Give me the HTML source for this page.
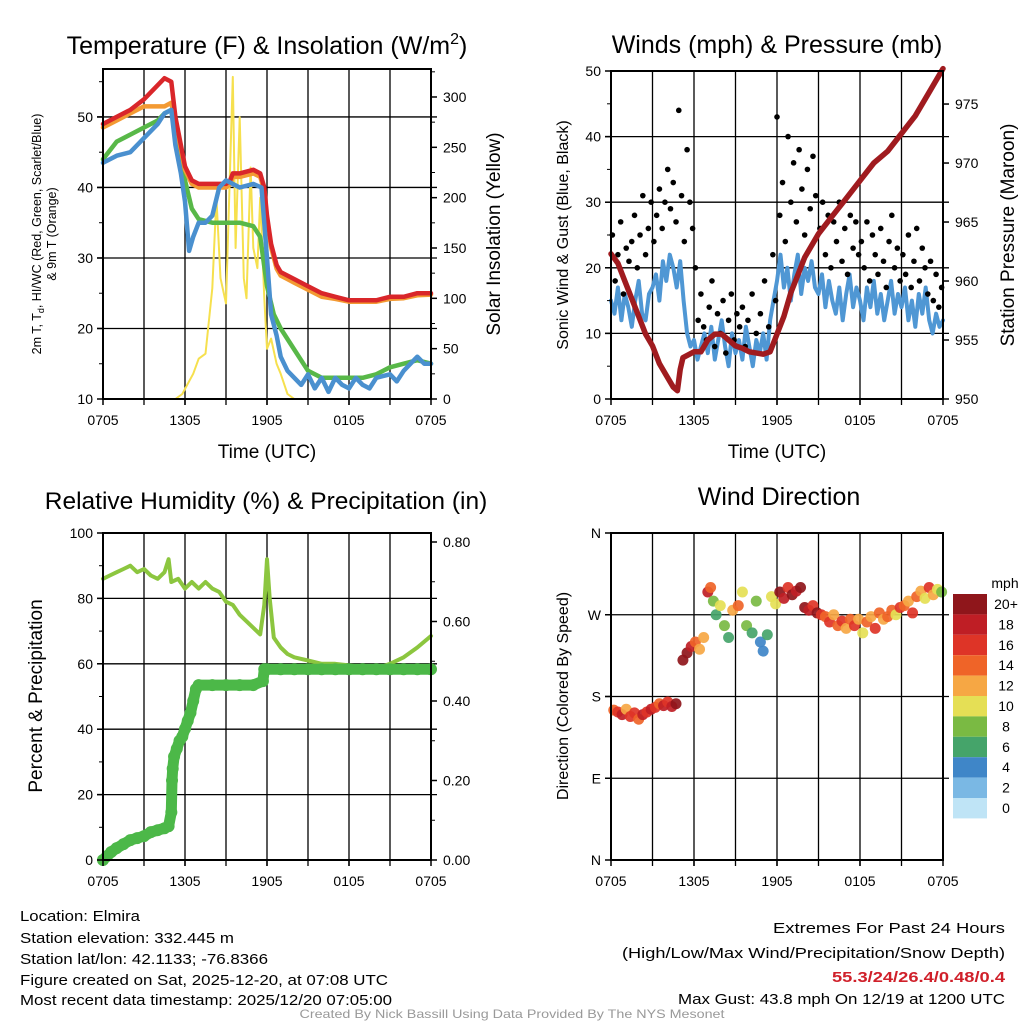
<!DOCTYPE html>
<html><head><meta charset="utf-8"><style>
html,body{margin:0;padding:0;background:#fff}
svg{display:block;font-family:"Liberation Sans",Arial,sans-serif}
</style></head><body>
<svg id="fig" width="1024" height="1024" viewBox="0 0 1024 1024" xmlns="http://www.w3.org/2000/svg">
<g id="layer-grid"></g><g id="layer-data"></g><g id="layer-axes"></g>
<g font-size="15" fill="#000">
<text x="20" y="921" textLength="120" lengthAdjust="spacingAndGlyphs">Location: Elmira</text>
<text x="20" y="943" textLength="214" lengthAdjust="spacingAndGlyphs">Station elevation: 332.445 m</text>
<text x="20" y="964" textLength="248" lengthAdjust="spacingAndGlyphs">Station lat/lon: 42.1133; -76.8366</text>
<text x="20" y="985" textLength="368" lengthAdjust="spacingAndGlyphs">Figure created on Sat, 2025-12-20, at 07:08 UTC</text>
<text x="20" y="1005" textLength="372" lengthAdjust="spacingAndGlyphs">Most recent data timestamp: 2025/12/20 07:05:00</text>
</g>
<g font-size="15" text-anchor="end">
<text x="1005" y="933" textLength="232" lengthAdjust="spacingAndGlyphs">Extremes For Past 24 Hours</text>
<text x="1005" y="958" textLength="383" lengthAdjust="spacingAndGlyphs">(High/Low/Max Wind/Precipitation/Snow Depth)</text>
<text x="1005" y="982" fill="#d0202a" font-weight="bold" textLength="173" lengthAdjust="spacingAndGlyphs">55.3/24/26.4/0.48/0.4</text>
<text x="1005" y="1004" textLength="327" lengthAdjust="spacingAndGlyphs">Max Gust: 43.8 mph On 12/19 at 1200 UTC</text>
</g>
<text x="512" y="1018" font-size="12" fill="#999" text-anchor="middle" textLength="425" lengthAdjust="spacingAndGlyphs">Created By Nick Bassill Using Data Provided By The NYS Mesonet</text>
</svg>
<script>
// ===== Panel 1 data =====
const tRed=[0,1,2,3,4,4.5,5,5.3,5.7,6,6.5,7,8,9,9.3,9.5,10,11,11.5,11.8,12,12.3,12.7,13,13.5,14,15,16,17,18,19,20,21,22,23,24];
const vRed=[49,50,51,52.5,54.5,55.5,55,50,46,43,41,40.5,40.5,40.5,41,42,42,42.5,42,40,36,32,29,28,27.5,27,26,25,24.5,24,24,24,24.5,24.5,25,25];
const vOrange=[48.5,49.5,50.5,51.5,51.5,51.5,52,49,45.5,42.5,40.5,40,40,40,40.5,41.5,41.5,42,41.5,39.5,35.5,31.5,28.5,27.5,27,26.5,25.5,24.5,24.2,23.8,23.8,23.8,24.2,24.3,24.7,24.8];
const tGreen=[0,1,2,3,4,4.5,5,5.5,6,6.5,7,8,9,10,11,11.5,12,12.5,13,14,15,16,17,18,19,20,21,22,23,24];
const vGreen=[44,46.5,47.5,48.5,49.5,50.5,51,46,41,37,35.5,35,35,35,34.5,33,26,22,20,17,14,13,13,13,13,13.5,14.5,15,15.5,15];
const tBlue=[0,1,2,3,4,4.5,5,5.3,5.7,6,6.3,6.6,7,7.5,8,8.5,9,10,11,11.6,12,12.3,12.7,13,13.5,14,14.5,15,15.5,16,16.5,17,17.5,18,18.5,19,19.5,20,21,21.5,22,22.5,23,23.5,24];
const vBlue=[43.5,44.5,45,47,49,50.5,51,46,42,38,31,33,35,35,36,40,41,40,40.5,40,30,22,19,16,14,13,12,13.5,11.5,13,11,13,12,11.5,13,12,11.5,13,13.5,12.5,14,15,16,15,15];
const tSun=[0,5.3,5.8,6.2,6.6,7,7.5,8,8.3,8.6,9,9.3,9.5,9.7,10,10.3,10.5,10.8,11,11.3,11.5,11.8,12,12.3,12.7,13,13.5,14,24];
const vSun=[0,0,5,15,25,40,45,110,200,120,95,230,320,150,280,120,100,230,150,130,200,100,50,60,35,25,5,0,0];
// ===== Panel 2 data =====
const tPres=[0,0.5,1,1.5,2,2.5,3,3.5,4,4.5,4.8,5,5.2,6,6.5,7,7.5,8,8.5,9,9.5,10,11,11.5,12,12.5,13,13.5,14,15,16,17,18,19,20,21,22,23,24];
const vPres=[962.3,961.5,960,958.5,957,955.5,954.5,953,952,951,950.7,952.5,953.5,954,954,955,955.5,955.5,955,954.5,954.3,954,953.8,954,955.5,957,959,960.5,962,964,965.5,967,968.5,970,971,972.5,974,976,978];
const vWind=[15,13,17,12,16,14,11,15,18,13,12,16,17,19,15,21,18,22,20,17,21,15,10,8,9,6,8,10,7,11,6,9,12,8,5,10,7,9,6,11,8,5,9,7,10,6,12,15,18,22,17,20,15,19,22,16,20,18,21,17,16,19,14,18,15,13,17,12,16,19,14,17,15,12,17,14,18,13,16,12,15,18,13,16,14,17,12,15,11,16,13,17,12,10,13,11,12];
const tGust=[0.1,0.3,0.5,0.7,0.9,1.1,1.3,1.5,1.7,1.9,2.1,2.3,2.5,2.7,2.9,3.1,3.3,3.5,3.7,3.9,4.1,4.3,4.5,4.7,4.9,5.1,5.3,5.5,5.7,5.9,6.1,6.3,6.5,6.7,6.9,7.1,7.3,7.5,7.7,7.9,8.1,8.3,8.5,8.7,8.9,9.1,9.3,9.5,9.7,9.9,10.2,10.5,10.8,11.1,11.4,11.7,11.9,12.0,12.2,12.4,12.6,12.8,13.0,13.2,13.4,13.6,13.8,14.0,14.2,14.4,14.6,14.8,15.1,15.3,15.5,15.7,15.9,16.1,16.3,16.5,16.7,16.9,17.1,17.3,17.5,17.7,17.9,18.1,18.3,18.5,18.7,18.9,19.1,19.3,19.5,19.7,19.9,20.1,20.3,20.5,20.7,20.9,21.1,21.3,21.5,21.7,21.9,22.1,22.3,22.5,22.7,22.9,23.1,23.3,23.5,23.7,23.9];
const vGust=[25,18,22,27,16,23,21,24,28,20,25,31,22,26,30,24,28,32,26,30,35,29,33,27,44,31,24,38,30,26,20,12,16,11,9,14,18,8,13,10,15,7,12,16,9,13,11,14,8,12,16,10,13,18,11,22,15,43,28,33,24,40,30,36,27,38,32,25,35,29,37,31,26,30,22,28,20,27,24,30,21,26,19,28,23,27,22,24,20,27,18,25,22,19,26,21,17,24,28,20,23,18,22,19,25,17,21,26,18,23,20,16,21,15,19,14,17];
// ===== Panel 3 data =====
const tRH=[0,0.5,1,1.5,2,2.5,3,3.5,4,4.5,4.8,5,5.5,6,6.5,7,7.5,8,8.5,9,9.5,10,10.5,11,11.5,11.8,12,12.2,12.5,13,13.5,14,15,16,17,18,19,20,21,22,23,24];
const vRH=[86,87,88,89,90,88,89,87,86,88,92,85,86,83,85,83,85,83,82,79,78,75,73,71,69,78,92,80,68,65,63,62,61,60,60,59.5,59,58.5,60,62,65,68.5];
const tPcp=[0,0.3,0.6,1,1.5,2,2.5,3,3.5,4,4.5,4.8,5,5.05,5.1,5.2,5.4,5.6,5.8,6,6.2,6.4,6.6,6.8,7,8,9,10,11,11.7,11.8,12,13,14,15,16,17,18,19,20,21,22,23,24];
const vPcp=[0,0.01,0.02,0.03,0.04,0.05,0.055,0.06,0.07,0.075,0.08,0.085,0.12,0.2,0.23,0.26,0.28,0.3,0.31,0.33,0.35,0.37,0.4,0.43,0.44,0.44,0.44,0.44,0.44,0.45,0.48,0.48,0.48,0.48,0.48,0.48,0.48,0.48,0.48,0.48,0.48,0.48,0.48,0.48];
// ===== Panel 4 data =====
const tDir=[0.2,0.5,0.8,1.1,1.4,1.7,2,2.3,2.6,2.9,3.2,3.5,3.8,4.1,4.4,4.7,5.2,5.5,5.8,6.1,6.4,6.7,7,7.2,7.4,7.6,7.9,8.2,8.5,8.8,9.2,9.5,9.8,10.2,10.5,10.8,11,11.3,11.6,11.9,12.2,12.5,12.8,13.1,13.4,13.7,14,14.3,14.6,14.9,15.2,15.5,15.8,16.1,16.4,16.7,17,17.3,17.6,17.9,18.2,18.5,18.8,19.1,19.4,19.7,20,20.3,20.6,20.9,21.2,21.5,21.8,22.1,22.4,22.7,23,23.3,23.6,23.9];
const vDir=[165,163,160,166,158,162,155,160,163,166,168,172,170,174,169,172,220,228,235,240,232,245,295,300,285,270,280,258,245,275,280,295,258,250,285,240,230,248,290,282,295,288,300,292,296,300,278,275,280,272,270,268,262,270,258,263,255,265,258,265,250,262,268,255,272,265,268,275,270,278,280,285,272,290,296,288,300,292,298,295];
const vSpd=[14,16,17,12,15,16,13,17,15,18,16,14,18,15,17,19,20,19,17,14,12,12,18,14,8,6,10,8,6,12,13,10,7,6,8,4,4,5,9,10,20,18,16,20,17,22,20,18,16,20,16,14,16,12,14,16,12,14,16,12,10,14,12,16,14,12,13,14,10,16,14,12,15,14,12,10,16,12,10,8];
const colorLevels=["20+","18","16","14","12","10","8","6","4","2","0"];
const xTickLabels=["0705","1305","1905","0105","0705"];

// ===== helpers =====
const NS="http://www.w3.org/2000/svg";
const G=document.getElementById('layer-grid'),D=document.getElementById('layer-data'),A=document.getElementById('layer-axes');
function mk(tag,attrs,parent){const e=document.createElementNS(NS,tag);for(const k in attrs)e.setAttribute(k,attrs[k]);parent.appendChild(e);return e;}
function lin(d0,d1,r0,r1){return v=>r0+(v-d0)/(d1-d0)*(r1-r0);}
const cols=['#bfe4f6','#7ab8e4','#3f86c8','#45a46a','#7aba43','#e5df55','#f6a744','#ef6428','#de3427','#bf1e25','#8f161b'];
function spdColor(s){let i=Math.min(10,Math.max(0,Math.round(s/2)));return cols[i];}

function frame(p,name){
  const {x0,x1,y0,y1}=p;
  for(let h=3;h<24;h+=3){const x=p.sx(h);const l=mk('line',{x1:x,x2:x,y1:y0,y2:y1+6,stroke:'#000','stroke-width':1.3},G);
    }
  const r=mk('rect',{x:x0,y:y0,width:x1-x0,height:y1-y0,fill:'none',stroke:'#000','stroke-width':2},A);
  
  xTickLabels.forEach((lab,i)=>{const x=p.sx(i*6);
    mk('line',{x1:x,x2:x,y1:y1,y2:y1+6,stroke:'#000','stroke-width':1.5},A);
    const t=mk('text',{x:x,y:y1+26,'font-size':14,'text-anchor':'middle'},A);t.textContent=lab;
    });
}
function hgrid(p,vals,sy){vals.forEach(v=>{const y=sy(v);const l=mk('line',{x1:p.x0-6,x2:p.x1+6,y1:y,y2:y,stroke:'#000','stroke-width':1.3},G);
  });}
function yTicks(p,side,vals,sy,fmt,minor){
  const x=side==='l'?p.x0:p.x1,d=side==='l'?-1:1;
  vals.forEach(v=>{const y=sy(v);mk('line',{x1:x,x2:x+d*6,y1:y,y2:y,stroke:'#000','stroke-width':1.5},A);
    const t=mk('text',{x:x+d*(side==='l'?10:12),y:y+5,'font-size':14,'text-anchor':side==='l'?'end':'start'},A);t.textContent=fmt(v);
    });
  (minor||[]).forEach(v=>{const y=sy(v);mk('line',{x1:x,x2:x+d*4,y1:y,y2:y,stroke:'#000','stroke-width':1},A);});
}
function text(x,y,s,size,name,attrs){const t=mk('text',Object.assign({x:x,y:y,'font-size':size,'text-anchor':'middle'},attrs||{}),A);t.textContent=s;
  return t;}
function vtext(x,y,s,size,name){const t=mk('text',{x:0,y:0,'font-size':size,'text-anchor':'middle',transform:`translate(${x},${y}) rotate(-90)`},A);t.textContent=s;
  return t;}
function path(ts,vs,sx,sy,color,w,name){const d=ts.map((t,i)=>(i?'L':'M')+sx(t).toFixed(1)+','+sy(vs[i]).toFixed(1)).join('');
  const e=mk('path',{d:d,fill:'none',stroke:color,'stroke-width':w,'stroke-linejoin':'round','stroke-linecap':'round'},D);
  return e;}

// ===== Panel 1 =====
const P1={x0:103,x1:431,y0:69,y1:399};P1.sx=lin(0,24,P1.x0,P1.x1);
const s1=lin(10,56.8,399,69),s1r=lin(0,327.8,399,69);
hgrid(P1,[20,30,40,50],s1);frame(P1,'temp-panel');
yTicks(P1,'l',[10,20,30,40,50],s1,v=>v,[15,25,35,45,55]);
yTicks(P1,'r',[0,50,100,150,200,250,300],s1r,v=>v,[25,75,125,175,225,275,325]);
path(tSun,vSun,P1.sx,s1r,'#f6e04e',2,'solar-insolation-line');
path(tGreen,vGreen,P1.sx,s1,'#58b848',4.5,'dewpoint-line');
path(tRed,vOrange,P1.sx,s1,'#f39a33',4.5,'temp-9m-line');
path(tRed,vRed,P1.sx,s1,'#d9262a',4.5,'temp-2m-line');
path(tBlue,vBlue,P1.sx,s1,'#4a90cf',4.5,'windchill-line');
text(267,54,'',25,'temp-title').innerHTML='Temperature (F) &amp; Insolation (W/m<tspan font-size="16" dy="-10">2</tspan><tspan dy="10">)</tspan>';
text(267,458,'Time (UTC)',19,'x-axis-title');
(function(){const t=mk('text',{x:0,y:0,'font-size':12.5,'text-anchor':'middle',transform:'translate(41,234) rotate(-90)'},A);
 t.innerHTML='2m T, T<tspan font-size="9" dy="3">d</tspan><tspan dy="-3">, HI/WC (Red, Green, Scarlet/Blue)</tspan>';
 
 const t2=mk('text',{x:0,y:0,'font-size':12.5,'text-anchor':'middle',transform:'translate(56,234) rotate(-90)'},A);t2.textContent='& 9m T (Orange)';
 })();
vtext(500,234,'Solar Insolation (Yellow)',19,'y2-axis-title');

// ===== Panel 2 =====
const P2={x0:611,x1:943,y0:71,y1:399};P2.sx=lin(0,24,P2.x0,P2.x1);
const s2=lin(0,50,399,71),s2r=lin(950,977.8,399,71);
hgrid(P2,[10,20,30,40],s2);frame(P2,'wind-panel');
yTicks(P2,'l',[0,10,20,30,40,50],s2,v=>v,[5,15,25,35,45]);
yTicks(P2,'r',[950,955,960,965,970,975],s2r,v=>v,[]);
path(vWind.map((v,i)=>i*0.25),vWind,P2.sx,s2,'#4f97d4',4,'sonic-wind-line');
tGust.forEach((t,i)=>{const c=mk('circle',{cx:P2.sx(t),cy:s2(vGust[i]),r:2.8,fill:'#000'},D);
 });
path(tPres,vPres,P2.sx,s2r,'#a01b1f',5.5,'pressure-line');
text(777,53,'Winds (mph) & Pressure (mb)',25,'wind-title');
text(777,458,'Time (UTC)',19,'x-axis-title-2');
vtext(568,235,'Sonic Wind & Gust (Blue, Black)',16,'y-axis-title-2');
vtext(1014,235,'Station Pressure (Maroon)',19,'y2-axis-title-2');

// ===== Panel 3 =====
const P3={x0:103,x1:431,y0:533,y1:860};P3.sx=lin(0,24,P3.x0,P3.x1);
const s3=lin(0,100,860,533),s3r=lin(0,0.8,860,542);
hgrid(P3,[20,40,60,80],s3);frame(P3,'rh-panel');
yTicks(P3,'l',[0,20,40,60,80,100],s3,v=>v,[10,30,50,70,90]);
yTicks(P3,'r',[0,0.2,0.4,0.6,0.8],s3r,v=>v.toFixed(2),[0.1,0.3,0.5,0.7]);
path(tRH,vRH,P3.sx,s3,'#8cc63f',4,'rh-line');
path(tPcp,vPcp,P3.sx,s3r,'#4cb848',11,'precip-line');
tPcp.forEach((t,i)=>{const c=mk('circle',{cx:P3.sx(t),cy:s3r(vPcp[i]),r:6,fill:'#4cb848'},D);
 });
text(266,509,'Relative Humidity (%) & Precipitation (in)',24.5,'rh-title');
vtext(42,696,'Percent & Precipitation',19,'y-axis-title-3');

// ===== Panel 4 =====
const P4={x0:611,x1:943,y0:533,y1:860};P4.sx=lin(0,24,P4.x0,P4.x1);
const s4=lin(0,360,860,533);
hgrid(P4,[90,180,270],s4);frame(P4,'direction-panel');
yTicks(P4,'l',[0,90,180,270,360],s4,v=>({0:'N',90:'E',180:'S',270:'W',360:'N'})[v],[]);
tDir.forEach((t,i)=>{const c=mk('circle',{cx:P4.sx(t),cy:s4(vDir[i]),r:5.5,fill:spdColor(vSpd[i]),'fill-opacity':0.92},D);
 });
text(779,505,'Wind Direction',25,'direction-title');
vtext(568,696,'Direction (Colored By Speed)',16,'y-axis-title-4');
text(1005,588,'mph',14,'colorbar-title');
colorLevels.forEach((lab,i)=>{const y=594+i*20.4;
 const r=mk('rect',{x:953,y:y,width:34,height:20.4,fill:cols[10-i]},A);
 
 const t=mk('text',{x:1006,y:y+15,'font-size':14,'text-anchor':'middle'},A);t.textContent=lab;
 });
</script>
</body></html>
